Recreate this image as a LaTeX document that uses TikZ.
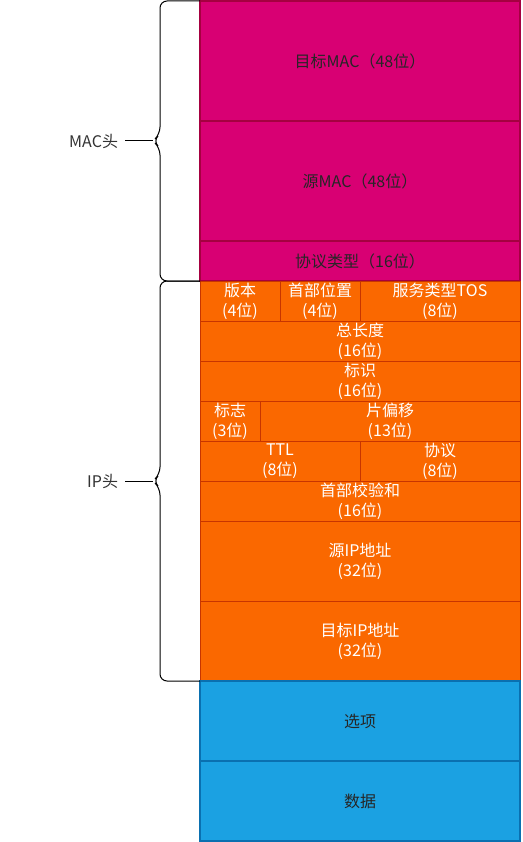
\documentclass[tikz,border=0pt]{standalone}
\usepackage{fontspec}
\setmainfont{Noto Sans CJK SC}
\usetikzlibrary{positioning}

\definecolor{macfill}{HTML}{D80073}
\definecolor{macline}{HTML}{A50040}
\definecolor{ipfill}{HTML}{FA6800}
\definecolor{ipline}{HTML}{C73500}
\definecolor{datafill}{HTML}{1BA1E2}
\definecolor{dataline}{HTML}{0A70B0}
\definecolor{labeltext}{HTML}{333333}

\begin{document}
\begin{tikzpicture}
    [
    x=1pt, y=-1pt,
    node distance=0pt,
    every node/.style={rectangle, inner sep=0pt, outer sep=0pt, align=center,
      font=\fontsize{16}{20}\selectfont},
    mac field/.style={fill=macfill, draw=macline, line width=1.2pt, text=black!85, minimum width=320pt},
    ip field/.style={fill=ipfill, draw=ipline, line width=0.8pt, text=white, minimum height=40pt},
    data field/.style={fill=datafill, draw=dataline, line width=1.2pt, text=black!85, minimum width=320pt, minimum height=80pt},
    head label/.style={text=labeltext, anchor=east, outer xsep=7pt},
    brace/.style={draw=black, line width=1pt, rounded corners=7pt},
    ]

    \useasboundingbox (0,0) rectangle (522,842);

    % MAC head
    \node[mac field, minimum height=120pt] (mac_dst) at (360,61) {目标MAC（48位）};
    \node[mac field, minimum height=120pt, below=of mac_dst] (mac_src) {源MAC（48位）};
    \node[mac field, minimum height=40pt, below=of mac_src] (mac_type) {协议类型（16位）};

    % IP head
    \node[ip field, minimum width=80pt, below=of mac_type.south west, anchor=north west] (ip_ver) {版本\\(4位)};
    \node[ip field, minimum width=80pt, right=of ip_ver] (ip_hlen) {首部位置\\(4位)};
    \node[ip field, minimum width=160pt, right=of ip_hlen] (ip_tos) {服务类型TOS\\(8位)};
    \node[ip field, minimum width=320pt, below=of ip_ver.south west, anchor=north west] (ip_len) {总长度\\(16位)};
    \node[ip field, minimum width=320pt, below=of ip_len] (ip_id) {标识\\(16位)};
    \node[ip field, minimum width=60pt, below=of ip_id.south west, anchor=north west] (ip_flag) {标志\\(3位)};
    \node[ip field, minimum width=260pt, right=of ip_flag] (ip_frag) {片偏移\\(13位)};
    \node[ip field, minimum width=160pt, below=of ip_flag.south west, anchor=north west] (ip_ttl) {TTL\\(8位)};
    \node[ip field, minimum width=160pt, right=of ip_ttl] (ip_proto) {协议\\(8位)};
    \node[ip field, minimum width=320pt, below=of ip_ttl.south west, anchor=north west] (ip_sum) {首部校验和\\(16位)};
    \node[ip field, minimum width=320pt, minimum height=80pt, below=of ip_sum] (ip_src) {源IP地址\\(32位)};
    \node[ip field, minimum width=320pt, minimum height=80pt, below=of ip_src] (ip_dst) {目标IP地址\\(32位)};

    % options and data
    \node[data field, below=of ip_dst] (opt) {选项};
    \node[data field, below=of opt] (payload) {数据};

    % braces
    \coordinate (mac_tip) at (153,141);
    \coordinate (ip_tip) at (153,481);
    \node[head label] (mac_lbl) at (125,141) {MAC头};
    \node[head label] (ip_lbl) at (125,481) {IP头};

    \draw[brace] (200,1) -- (160,1) -- (160,134) -- (mac_tip) -- (160,148) -- (160,281) -- (200,281);
    \draw[brace] (200,281) -- (160,281) -- (160,474) -- (ip_tip) -- (160,488) -- (160,681) -- (200,681);
    \draw[line width=1pt] (mac_lbl.east) -- (mac_tip);
    \draw[line width=1pt] (ip_lbl.east) -- (ip_tip);
\end{tikzpicture}
\end{document}
